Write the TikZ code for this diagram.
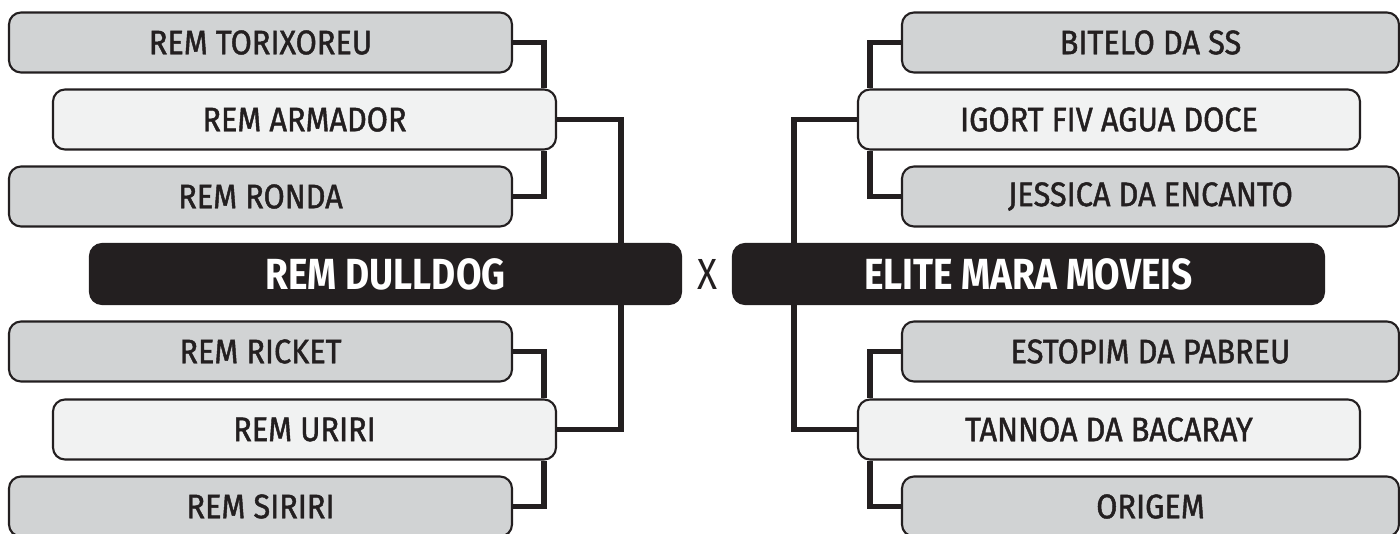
\documentclass[tikz,border=0pt]{standalone}
\usepackage{fontspec}
\setmainfont{Fira Sans}[FakeStretch=0.85]
\newfontfamily\teamfont{Fira Sans}[FakeStretch=0.9, FakeBold=1.3]
\newfontfamily\vsfont{Fira Sans}[FakeStretch=0.85]
\usetikzlibrary{positioning}

\definecolor{teamgray}{HTML}{D1D3D4}
\definecolor{seedgray}{HTML}{F1F2F2}
\definecolor{inkdark}{HTML}{231F20}

\tikzset{
	team/.style={draw=inkdark, line width=0.6pt, fill=teamgray, rounded corners=0.12cm,
		minimum width=5.03cm, minimum height=0.6cm, inner sep=0pt, text=inkdark,
		font=\teamfont\fontsize{9.7}{11}\selectfont},
	seed/.style={team, fill=seedgray},
	final/.style={team, fill=inkdark, minimum width=5.91cm, text=white,
		font=\normalfont\fontsize{12.4}{14}\selectfont\bfseries},
	link/.style={draw=inkdark, line width=1.6pt}
}

\begin{document}
\begin{tikzpicture}
	\newcommand\rA{-0.425}
	\newcommand\rB{-1.195}
	\newcommand\rC{-1.965}
	\newcommand\rF{-2.74}
	\newcommand\rD{-3.515}
	\newcommand\rE{-4.295}
	\newcommand\rG{-5.065}

	\useasboundingbox (0,0) rectangle (14,-5.33);

	% left bracket
	\node[team] (tor) at (2.605,\rA) {REM TORIXOREU};
	\node[seed] (arm) at (3.045,\rB) {REM ARMADOR};
	\node[team] (ron) at (2.605,\rC) {REM RONDA};
	\node[final] (dul) at (3.855,\rF) {REM DULLDOG};
	\node[team] (ric) at (2.605,\rD) {REM RICKET};
	\node[seed] (uri) at (3.045,\rE) {REM URIRI};
	\node[team] (sir) at (2.605,\rG) {REM SIRIRI};

	\node[text=inkdark, font=\vsfont\fontsize{12.4}{14}\selectfont] (vs) at (7.07,\rF) {X};

	% right bracket
	\node[team, minimum width=4.97cm] (bit) at (11.505,\rA) {BITELO DA SS};
	\node[seed, minimum width=5.02cm] (igo) at (11.09,\rB) {IGORT FIV AGUA DOCE};
	\node[team, minimum width=4.97cm] (jes) at (11.505,\rC) {JESSICA DA ENCANTO};
	\node[final] (eli) at (10.285,\rF) {ELITE MARA MOVEIS};
	\node[team, minimum width=4.97cm] (est) at (11.505,\rD) {ESTOPIM DA PABREU};
	\node[seed, minimum width=5.02cm] (tan) at (11.09,\rE) {TANNOA DA BACARAY};
	\node[team, minimum width=4.97cm] (ori) at (11.505,\rG) {ORIGEM};

	\draw[link] (tor.east) -| ([xshift=-0.13cm]arm.north east);
	\draw[link] (ron.east) -| ([xshift=-0.13cm]arm.south east);
	\draw[link] (ric.east) -| ([xshift=-0.13cm]uri.north east);
	\draw[link] (sir.east) -| ([xshift=-0.13cm]uri.south east);
	\draw[link] (arm.east) -| ([xshift=-0.61cm]dul.north east);
	\draw[link] (uri.east) -| ([xshift=-0.61cm]dul.south east);

	\draw[link] (bit.west) -| ([xshift=0.13cm]igo.north west);
	\draw[link] (jes.west) -| ([xshift=0.13cm]igo.south west);
	\draw[link] (est.west) -| ([xshift=0.13cm]tan.north west);
	\draw[link] (ori.west) -| ([xshift=0.13cm]tan.south west);
	\draw[link] (igo.west) -| ([xshift=0.62cm]eli.north west);
	\draw[link] (tan.west) -| ([xshift=0.62cm]eli.south west);
\end{tikzpicture}
\end{document}
